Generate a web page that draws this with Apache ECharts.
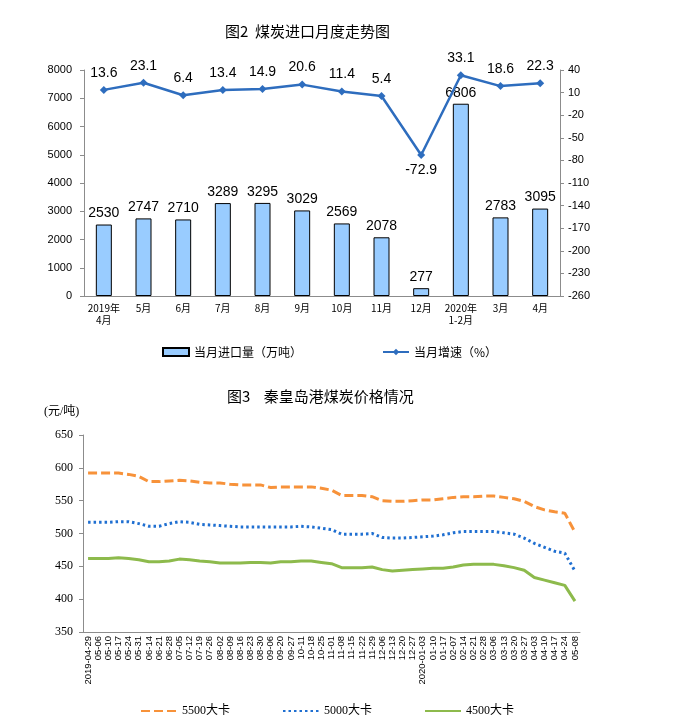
<!DOCTYPE html>
<html><head><meta charset="utf-8">
<script src="https://cdn.jsdelivr.net/npm/echarts/dist/echarts.min.js"></script>
<style>html,body{margin:0;padding:0;background:#fff}#c{width:692px;height:728px}</style>
</head><body><div id="c"></div>
<script>
const months = ['2019年\n4月','5月','6月','7月','8月','9月','10月','11月','12月','2020年\n1-2月','3月','4月'];
const importVolume = [2530,2747,2710,3289,3295,3029,2569,2078,277,6806,2783,3095];
const growthRate = [13.6,23.1,6.4,13.4,14.9,20.6,11.4,5.4,-72.9,33.1,18.6,22.3];
const volumeTicks = {min:0, max:8000, interval:1000};
const rateTicks = {min:-260, max:40, interval:30};

const dates = ['2019-04-29','05-06','05-10','05-17','05-24','05-31','06-14','06-21','06-28','07-05','07-12','07-19','07-26','08-02','08-09','08-16','08-23','08-30','09-06','09-20','09-27','10-11','10-18','10-25','11-01','11-08','11-15','11-22','11-29','12-06','12-13','12-20','12-27','2020-01-03','01-10','01-17','02-07','02-14','02-21','02-28','03-06','03-13','03-20','03-27','04-03','04-10','04-17','04-24','05-08'];
const price5500 = [592,592,592,592,590,587,579,579,580,581,580,578,577,577,575,574,574,574,570,571,571,571,571,569,566,558,558,558,556,550,549,549,550,551,551,553,555,556,556,557,557,555,553,549,541,536,533,531,502];
const price5000 = [517,517,517,518,518,515,511,511,515,518,517,514,513,512,511,510,510,510,510,510,510,511,510,508,506,499,499,499,500,494,493,493,494,495,496,498,501,503,503,503,503,501,499,493,485,479,473,470,443];
const price4500 = [462,462,462,463,462,460,457,457,458,461,460,458,457,455,455,455,456,456,455,457,457,458,458,456,454,448,448,448,449,445,443,444,445,446,447,447,449,452,453,453,453,451,448,444,433,429,425,421,397];
const priceTicks = {min:350, max:650, interval:50};

const SANS = 'Liberation Sans, Arial, Noto Sans CJK SC, sans-serif';
const SERIF = 'Liberation Serif, Noto Sans CJK SC, serif';
const CJK = 'Noto Sans CJK SC, sans-serif';
const axisGray = '#8c8c8c';

const chart = echarts.init(document.getElementById('c'));
chart.setOption({
  animation: false,
  backgroundColor: '#fff',
  title: [
    {text: '图2  煤炭进口月度走势图', left: 220, top: 19, textStyle: {fontFamily: CJK, fontSize: 15, fontWeight: 'normal', color: '#000'}},
    {text: '图3    秦皇岛港煤炭价格情况', left: 222, top: 384, textStyle: {fontFamily: CJK, fontSize: 15, fontWeight: 'normal', color: '#000'}}
  ],
  graphic: [
    {type: 'text', left: 44, top: 406, style: {text: '(元/吨)', font: '12px ' + SERIF, fill: '#000'}}
  ],
  legend: [
    {data: [{name: '当月进口量（万吨）', icon: 'rect'}, '当月增速（%）'], left: 157, top: 341, itemWidth: 26, itemHeight: 8, itemGap: 80,
     textStyle: {fontFamily: CJK, fontSize: 12, color: '#000'}},
    {data: ['5500大卡', '5000大卡', '4500大卡'], left: 135, top: 700, itemWidth: 36, itemHeight: 10, itemGap: 52,
     itemStyle: {opacity: 0},
     textStyle: {fontFamily: SERIF, fontSize: 12, color: '#000'}}
  ],
  grid: [
    {left: 84, top: 70, width: 476, height: 226},
    {left: 83, top: 435, width: 497, height: 197}
  ],
  xAxis: [
    {type: 'category', gridIndex: 0, data: months,
     axisLine: {lineStyle: {color: axisGray}}, axisTick: {lineStyle: {color: axisGray}, length: 4},
     axisLabel: {fontFamily: CJK, fontSize: 10, color: '#000', interval: 0, lineHeight: 12, margin: 6}},
    {type: 'category', gridIndex: 1, data: dates,
     axisLine: {lineStyle: {color: axisGray}},
     axisTick: {lineStyle: {color: axisGray}, length: 4, interval: function (i) { return i % 3 === 1; }},
     axisLabel: {fontFamily: SANS, fontSize: 9.5, color: '#000', rotate: 90, interval: 0, margin: 4}}
  ],
  yAxis: [
    {type: 'value', gridIndex: 0, min: volumeTicks.min, max: volumeTicks.max, interval: volumeTicks.interval,
     axisLine: {show: true, lineStyle: {color: axisGray}}, axisTick: {show: true, lineStyle: {color: axisGray}, length: 4},
     splitLine: {show: false}, axisLabel: {fontFamily: SANS, fontSize: 11, color: '#000', margin: 12, formatter: v => String(v)}},
    {type: 'value', gridIndex: 0, position: 'right', min: rateTicks.min, max: rateTicks.max, interval: rateTicks.interval,
     axisLine: {show: true, lineStyle: {color: axisGray}}, axisTick: {show: true, lineStyle: {color: axisGray}, length: 4},
     splitLine: {show: false}, axisLabel: {fontFamily: SANS, fontSize: 11, color: '#000', margin: 8, formatter: v => String(v)}},
    {type: 'value', gridIndex: 1, min: priceTicks.min, max: priceTicks.max, interval: priceTicks.interval,
     axisLine: {show: true, lineStyle: {color: axisGray}}, axisTick: {show: true, lineStyle: {color: axisGray}, length: 4},
     splitLine: {show: false}, axisLabel: {fontFamily: SERIF, fontSize: 12, color: '#000', margin: 10}}
  ],
  series: [
    {name: '当月进口量（万吨）', type: 'bar', xAxisIndex: 0, yAxisIndex: 0, data: importVolume, barWidth: 16,
     itemStyle: {color: '#99CCFF', borderColor: '#000', borderWidth: 1},
     label: {show: true, position: 'top', distance: 4, fontFamily: SANS, fontSize: 14, color: '#000'}},
    {name: '当月增速（%）', type: 'line', xAxisIndex: 0, yAxisIndex: 1,
     data: growthRate.map(v => v < 0 ? {value: v, label: {position: 'bottom', distance: 4}} : v),
     symbol: 'diamond', symbolSize: 8, color: '#2E6DBE', lineStyle: {width: 2.5, color: '#2E6DBE'},
     label: {show: true, position: 'top', distance: 6, fontFamily: SANS, fontSize: 14, color: '#000'}},
    {name: '5500大卡', type: 'line', xAxisIndex: 1, yAxisIndex: 2, data: price5500, symbol: 'none', color: '#F7923A',
     lineStyle: {width: 3, color: '#F7923A', type: [9, 4]}},
    {name: '5000大卡', type: 'line', xAxisIndex: 1, yAxisIndex: 2, data: price5000, symbol: 'none', color: '#1F6FD1',
     lineStyle: {width: 3, color: '#1F6FD1', type: [2.5, 3]}},
    {name: '4500大卡', type: 'line', xAxisIndex: 1, yAxisIndex: 2, data: price4500, symbol: 'none', color: '#8DBA4C',
     lineStyle: {width: 3, color: '#8DBA4C'}}
  ]
});
</script>
</body></html>
